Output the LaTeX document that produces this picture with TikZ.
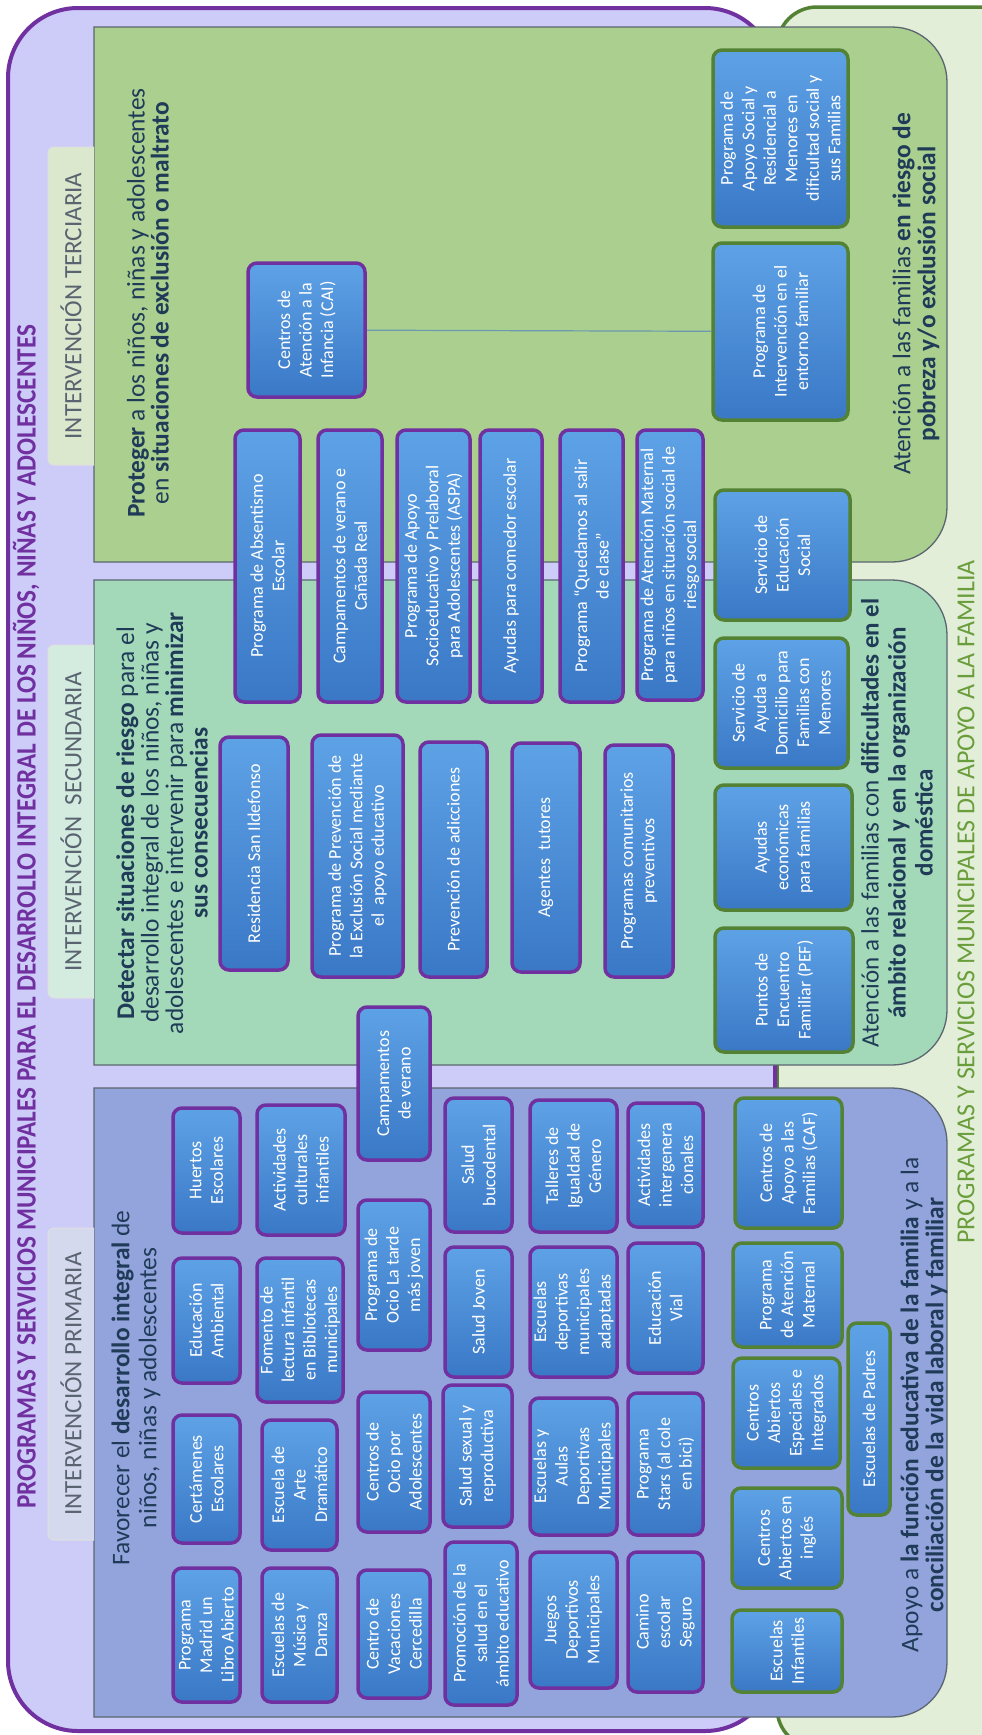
\documentclass[tikz,border=0pt]{standalone}
\usepackage{fontspec}
\setmainfont{Carlito}
\usetikzlibrary{shadows}
\definecolor{purp}{HTML}{7030A0}
\definecolor{lav}{HTML}{CDCCF9}
\definecolor{grnB}{HTML}{548235}
\definecolor{grnBg}{HTML}{E3EED8}
\definecolor{terF}{HTML}{AACF8F}
\definecolor{secF}{HTML}{A3D9B8}
\definecolor{priF}{HTML}{93A3DC}
\definecolor{boxL}{HTML}{5EA2E6}
\definecolor{boxD}{HTML}{3A78C6}
\definecolor{desc}{HTML}{1F3B58}
\definecolor{tabTF}{HTML}{DCE8CE}
\definecolor{tabSF}{HTML}{D3ECDF}
\definecolor{tabPF}{HTML}{D5D9EE}
\definecolor{grnT}{HTML}{6A9E3C}
\definecolor{ibord}{HTML}{5B6670}
\definecolor{tabtxt}{HTML}{5A6470}
\definecolor{connC}{HTML}{6B9AB0}
\tikzset{
  bx/.style={rotate=90, rounded corners=9pt, align=center, text=white,
    font=\fontsize{18}{21.5}\selectfont, inner sep=1pt,
    top color=boxL, bottom color=boxD, line width=3.5pt,
    drop shadow={opacity=0.3, shadow xshift=1.5pt, shadow yshift=-1.5pt}},
  pb/.style={bx, draw=purp},
  gb/.style={bx, draw=grnB},
  dsc/.style={rotate=90, align=center, text=desc, inner sep=0pt},
  tabtext/.style={rotate=90, text=tabtxt, font=\fontsize{25}{25}\selectfont, inner sep=0pt},
  region/.style={draw=ibord, line width=1.3pt},
  tabbox/.style={draw=white!75!gray, line width=1pt},
  conn/.style={draw=connC, line width=1.2pt},
}
% style, name, x1, x2, y1, y2, text  (image pixel coordinates)
\newcommand\bx[7]{\node[#1,minimum width={(#6-#5)*1pt},minimum height={(#4-#3)*1pt}] (#2) at ({(#3+#4)/2},{-(#5+#6)/2}) {#7};}
% inner region: y1, y2, fill
\newcommand\ibox[3]{\draw[region, fill=#3] (94,-#1) -- (892,-#1) arc[start angle=90,end angle=0,radius=55] -- (947,{-#2+55}) arc[start angle=0,end angle=-90,radius=55] -- (94,-#2) -- cycle;}
% tab: y1, y2, fill
\newcommand\tabshape[3]{\draw[tabbox, fill=#3] (94,-#1) -- (54,-#1) arc[start angle=90,end angle=180,radius=6] -- (48,{-#2+6}) arc[start angle=180,end angle=270,radius=6] -- (94,-#2);}
\begin{document}
\begin{tikzpicture}[x=1pt,y=1pt]
\useasboundingbox (0,0) rectangle (982,-1735);
\clip (0,0) rectangle (982,-1735);
\fill[white] (0,0) rectangle (982,-1735);
% outer frames
\draw[line width=3.5pt, draw=grnB, fill=grnBg, rounded corners=40pt] (777,-7) rectangle (1040,-1748);
\draw[line width=4pt, draw=purp, fill=lav, rounded corners=70pt] (8,-8) rectangle (775,-1731);
% titles
\node[rotate=90, text=purp, font=\bfseries\fontsize{28}{29}\selectfont, inner sep=0pt] (title) at (26,-917)
  {\scalebox{0.9}[1]{PROGRAMAS Y SERVICIOS MUNICIPALES PARA EL DESARROLLO INTEGRAL DE LOS NIÑOS, NIÑAS Y ADOLESCENTES}};
\node[rotate=90, text=grnT, font=\fontsize{26}{26}\selectfont, inner sep=0pt] (title2) at (966,-902)
  {PROGRAMAS Y SERVICIOS MUNICIPALES DE APOYO A LA FAMILIA};
% regions
\ibox{27}{562}{terF}
\ibox{580}{1065}{secF}
\ibox{1088}{1717}{priF}
% tabs
\tabshape{147}{465}{tabTF}
\tabshape{645}{998}{tabSF}
\tabshape{1228}{1540}{tabPF}
\node[tabtext] (tabT) at (71,-306) {INTERVENCIÓN TERCIARIA};
\node[tabtext] (tabS) at (71,-822) {INTERVENCIÓN\ \ SECUNDARIA};
\node[tabtext] (tabP) at (71,-1384) {INTERVENCIÓN PRIMARIA};
% descriptions
\node[dsc, font=\fontsize{25.4}{24}\selectfont] (dT) at (148,-303)
  {\textbf{Proteger} a los niños, niñas y adolescentes\\ en \textbf{situaciones de exclusión o maltrato}};
\node[dsc, font=\fontsize{25.4}{24.5}\selectfont] (dS) at (162,-823)
  {\textbf{Detectar situaciones de riesgo} para el\\ desarrollo integral de los niños, niñas y\\ adolescentes e intervenir para \textbf{minimizar}\\ \textbf{sus consecuencias}};
\node[dsc, font=\fontsize{25.4}{27}\selectfont] (dP) at (136,-1388)
  {Favorecer el \textbf{desarrollo integral} de\\ niños, niñas y adolescentes};
\node[dsc, font=\fontsize{25.4}{25}\selectfont] (fT) at (916,-294)
  {Atención a las familias \textbf{en riesgo de}\\ \textbf{pobreza y/o exclusión social}};
\node[dsc, font=\fontsize{25}{27}\selectfont] (fS) at (897,-823)
  {Atención a las familias con \textbf{dificultades en el}\\ \textbf{ámbito relacional y en la organización}\\ \textbf{doméstica}};
\node[dsc, font=\fontsize{25.4}{25}\selectfont] (fP) at (924,-1405)
  {Apoyo a \textbf{la función educativa de la familia} y a la\\ \textbf{conciliación de la vida laboral y familiar}};
% ---- Terciaria
\bx{pb}{cai}{248}{365}{263}{397}{Centros de\\ Atención a la\\ Infancia (CAI)}
\bx{gb}{pief}{713}{848}{243}{420}{Programa de\\ Intervención en el\\ entorno familiar}
\bx{gb}{pasr}{713}{848}{50}{227}{Programa de\\ Apoyo Social y\\ Residencial a\\ Menores en\\ dificultad social y\\ sus Familias}
\draw[conn] (cai) -- (pief);
% ---- Secundaria / Terciaria straddling column
\bx{pb}{abs}{235}{300}{430}{702}{Programa de Absentismo\\ Escolar}
\bx{pb}{camp}{318}{382}{430}{702}{Campamentos de verano e\\ Cañada Real}
\bx{pb}{aspa}{397}{470}{430}{702}{Programa de Apoyo\\ Socioeducativo y Prelaboral\\ para Adolescentes (ASPA)}
\bx{pb}{comedor}{480}{542}{430}{702}{Ayudas para comedor escolar}
\bx{pb}{qued}{560}{623}{430}{702}{Programa “Quedamos al salir\\ de clase”}
\bx{pb}{pamat}{637}{703}{430}{700}{Programa de Atención Maternal\\ para niños en situación social de\\ riesgo social}
% ---- Secundaria
\bx{pb}{resid}{220}{288}{737}{970}{Residencia San Ildefonso}
\bx{pb}{prevex}{312}{403}{735}{977}{Programa de Prevención de\\ la Exclusión Social mediante\\ el\ \ apoyo educativo}
\bx{pb}{adic}{420}{487}{742}{977}{Prevención de adicciones}
\bx{pb}{agent}{512}{580}{743}{972}{Agentes\ \ tutores}
\bx{pb}{comun}{605}{673}{745}{977}{Programas comunitarios\\ preventivos}
\bx{gb}{pef}{715}{853}{928}{1052}{Puntos de\\ Encuentro\\ Familiar (PEF)}
\bx{gb}{ayeco}{715}{852}{785}{910}{Ayudas\\ económicas\\ para familias}
\bx{gb}{sad}{715}{848}{638}{768}{Servicio de\\ Ayuda a\\ Domicilio para\\ Familias con\\ Menores}
\bx{gb}{ses}{715}{850}{490}{620}{Servicio de\\ Educación\\ Social}
% ---- Primaria
\bx{pb}{madrid}{173}{240}{1568}{1702}{Programa\\ Madrid un\\ Libro Abierto}
\bx{pb}{certam}{173}{240}{1415}{1543}{Certámenes\\ Escolares}
\bx{pb}{eduamb}{173}{240}{1258}{1383}{Educación\\ Ambiental}
\bx{pb}{huertos}{173}{240}{1108}{1233}{Huertos\\ Escolares}
\bx{pb}{musica}{262}{337}{1568}{1702}{Escuelas de\\ Música y\\ Danza}
\bx{pb}{arte}{262}{337}{1420}{1550}{Escuela de\\ Arte\\ Dramático}
\bx{pb}{fomento}{257}{343}{1258}{1402}{Fomento de\\ lectura infantil\\ en Bibliotecas\\ municipales}
\bx{pb}{actcult}{257}{345}{1105}{1235}{Actividades\\ culturales\\ infantiles}
\bx{pb}{vacac}{358}{430}{1570}{1698}{Centro de\\ Vacaciones\\ Cercedilla}
\bx{pb}{ocioad}{358}{430}{1392}{1532}{Centros de\\ Ocio por\\ Adolescentes}
\bx{pb}{ociotar}{358}{430}{1200}{1350}{Programa de\\ Ocio La tarde\\ más joven}
\bx{pb}{campver}{358}{430}{1007}{1160}{Campamentos\\ de verano}
\bx{pb}{promo}{445}{517}{1542}{1705}{Promoción de la\\ salud en el\\ ámbito educativo}
\bx{pb}{sexual}{443}{512}{1385}{1527}{Salud sexual y\\ reproductiva}
\bx{pb}{joven}{445}{512}{1247}{1377}{Salud Joven}
\bx{pb}{bucod}{445}{512}{1098}{1232}{Salud\\ bucodental}
\bx{pb}{juegos}{530}{617}{1552}{1688}{Juegos\\ Deportivos\\ Municipales}
\bx{pb}{aulas}{530}{617}{1398}{1535}{Escuelas y\\ Aulas\\ Deportivas\\ Municipales}
\bx{pb}{adapt}{530}{617}{1247}{1377}{Escuelas\\ deportivas\\ municipales\\ adaptadas}
\bx{pb}{igual}{530}{617}{1100}{1232}{Talleres de\\ Igualdad de\\ Género}
\bx{pb}{camino}{628}{703}{1552}{1692}{Camino\\ escolar\\ Seguro}
\bx{pb}{stars}{628}{703}{1393}{1535}{Programa\\ Stars (al cole\\ en bici)}
\bx{pb}{vial}{628}{703}{1243}{1373}{Educación\\ Vial}
\bx{pb}{intergen}{628}{703}{1103}{1227}{Actividades\\ intergenera\\ cionales}
\bx{gb}{escinf}{732}{842}{1610}{1692}{Escuelas\\ Infantiles}
\bx{gb}{caingl}{732}{842}{1488}{1588}{Centros\\ Abiertos en\\ inglés}
\bx{gb}{caesp}{733}{840}{1358}{1468}{Centros\\ Abiertos\\ Especiales e\\ Integrados}
\bx{gb}{pamat2}{733}{842}{1243}{1347}{Programa\\ de Atención\\ Maternal}
\bx{gb}{caf}{735}{842}{1098}{1228}{Centros de\\ Apoyo a las\\ Familias (CAF)}
\bx{gb}{padres}{848}{890}{1323}{1515}{Escuelas de Padres}
\end{tikzpicture}
\end{document}
